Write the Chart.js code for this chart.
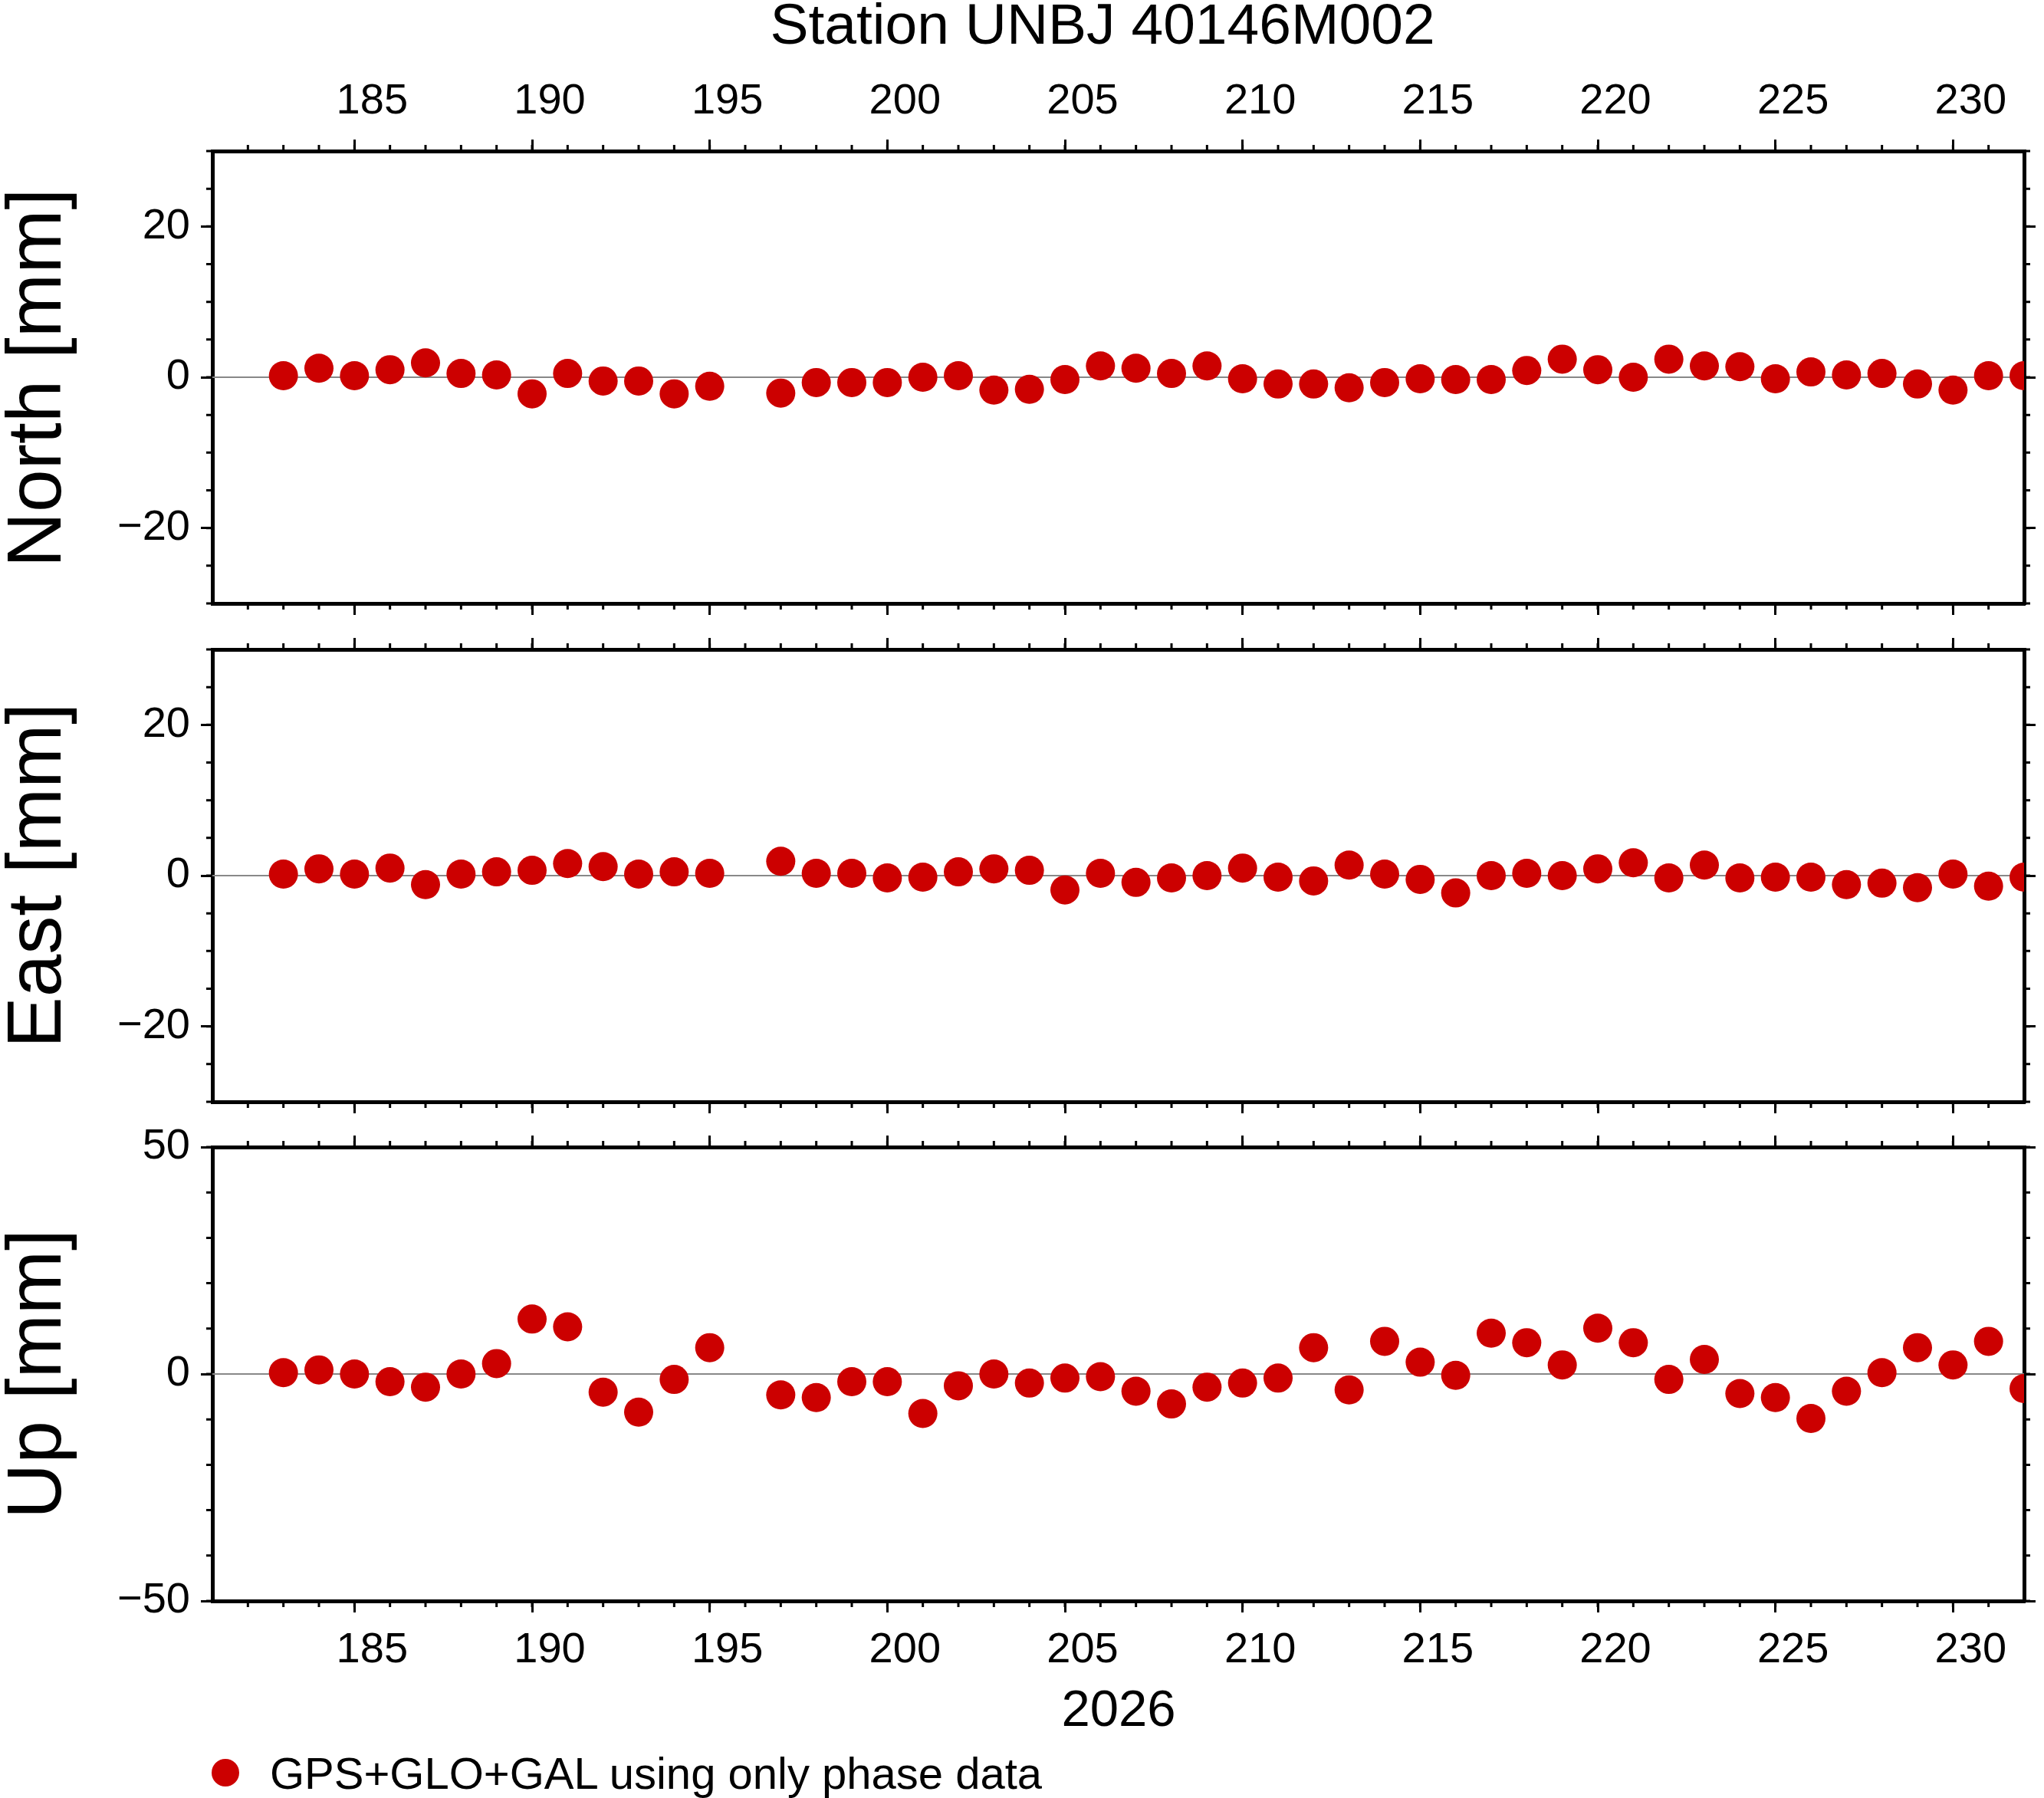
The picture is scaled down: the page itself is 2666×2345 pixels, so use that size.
<!DOCTYPE html>
<html><head><meta charset="utf-8">
<script src="https://cdn.jsdelivr.net/npm/chart.js@4"></script>
<style>
body{margin:0;width:2666px;height:2345px;background:#fff;position:relative;overflow:hidden;font-family:"Liberation Sans",Arial,sans-serif;}
canvas{position:absolute;left:0;}
.t{position:absolute;white-space:nowrap;color:#000;}
.yl{position:absolute;font-size:100px;transform:translate(-50%,-50%) rotate(-90deg);white-space:nowrap;}
</style></head><body>
<div class="t" style="left:1438px;top:31px;font-size:75px;transform:translate(-50%,-50%)">Station UNBJ 40146M002</div>
<div class="yl" style="left:44px;top:493px">North [mm]</div>
<div class="yl" style="left:44px;top:1142px">East [mm]</div>
<div class="yl" style="left:44px;top:1792px">Up [mm]</div>
<div class="t" style="left:1459px;top:2227px;font-size:67px;transform:translate(-50%,-50%)">2026</div>
<div style="position:absolute;left:276px;top:2294px;width:36px;height:36px;border-radius:50%;background:#cc0000"></div>
<div class="t" style="left:352px;top:2312px;font-size:58px;transform:translateY(-50%)">GPS+GLO+GAL using only phase data</div>
<canvas id="cN" width="2666" height="747" style="top:100px"></canvas>
<canvas id="cE" width="2666" height="710" style="top:787px"></canvas>
<canvas id="cU" width="2666" height="764" style="top:1436px"></canvas>
<script>
const days = [183,184,185,186,187,188,189,190,191,192,193,194,195,197,198,199,200,201,202,203,204,205,206,207,208,209,210,211,212,213,214,215,216,217,218,219,220,221,222,223,224,225,226,227,228,229,230,231,232];
const north = [0.2,1.2,0.2,1,1.9,0.5,0.3,-2.2,0.5,-0.5,-0.5,-2.2,-1.2,-2.1,-0.7,-0.7,-0.7,0,0.2,-1.7,-1.6,-0.3,1.5,1.2,0.5,1.5,-0.2,-0.9,-0.9,-1.4,-0.7,-0.2,-0.3,-0.3,0.9,2.4,1,0,2.4,1.5,1.4,-0.2,0.7,0.3,0.5,-0.9,-1.7,0.2,0.2];
const east = [0.2,0.9,0.2,1,-1.2,0.2,0.5,0.7,1.6,1.2,0.2,0.5,0.3,1.9,0.3,0.3,-0.3,-0.2,0.5,0.9,0.7,-1.9,0.3,-0.9,-0.3,0,1,-0.2,-0.7,1.4,0.2,-0.5,-2.3,0,0.3,0,0.9,1.7,-0.3,1.4,-0.3,-0.2,-0.2,-1.2,-1,-1.6,0.2,-1.4,-0.2];
const up = [0.3,0.9,0,-1.7,-2.9,0,2.3,12.1,10.4,-4,-8.4,-1.2,5.8,-4.6,-5.2,-1.7,-1.7,-8.7,-2.6,0,-2,-0.9,-0.6,-3.8,-6.6,-2.9,-2,-0.9,5.8,-3.5,7.2,2.6,-0.3,9,6.9,2,10.1,6.9,-1.2,3.2,-4.3,-5.2,-9.8,-3.8,0.3,5.8,2,7.2,-3.2];
const xMajor = [185,190,195,200,205,210,215,220,225,230];
const xMin = 181, xMax = 232;

const FONT = {family:'"Liberation Sans", Arial, sans-serif', size:56};

function fixed(v){ return s => { s.ticks = v.map(x => ({value:x})); }; }

const minorPlugin = {
  id:'minor',
  beforeDatasetsDraw(chart, args, opts){
    const {ctx, chartArea:a, scales} = chart;
    const x = scales.x, y = scales.y;
    ctx.save();
    ctx.strokeStyle = '#888'; ctx.lineWidth = 2;
    const y0 = y.getPixelForValue(0);
    ctx.beginPath(); ctx.moveTo(a.left, y0); ctx.lineTo(a.right, y0); ctx.stroke();
    ctx.strokeStyle = '#000'; ctx.lineWidth = 3;
    ctx.beginPath();
    for (let d = xMin + 1; d < xMax; d++) {
      const px = x.getPixelForValue(d);
      ctx.moveTo(px, a.top); ctx.lineTo(px, a.top - 8);
      ctx.moveTo(px, a.bottom); ctx.lineTo(px, a.bottom + 8);
    }
    for (let v = y.min; v <= y.max; v += opts.ystep) {
      const py = y.getPixelForValue(v);
      ctx.moveTo(a.left, py); ctx.lineTo(a.left - 8, py);
      ctx.moveTo(a.right, py); ctx.lineTo(a.right + 8, py);
    }
    ctx.stroke();
    ctx.restore();
  }
};

function makeChart(id, values, opt){
  const lab = {color:'#000', font:FONT};
  const grid = {drawOnChartArea:false, tickLength:15, lineWidth:3, color:'#000'};
  const border = {width:5, color:'#000'};
  return new Chart(document.getElementById(id), {
    type:'scatter',
    data:{datasets:[{data:days.map((d,i)=>({x:d,y:values[i]})), backgroundColor:'#cc0000', borderWidth:0, pointRadius:19}]},
    plugins:[minorPlugin],
    options:{
      responsive:false, animation:false, devicePixelRatio:1,
      layout:{padding:0},
      plugins:{legend:{display:false}, tooltip:{enabled:false}, minor:{ystep:opt.ystep}},
      scales:{
        x:{type:'linear', position:'bottom', min:xMin, max:xMax, grid, border,
           afterBuildTicks:fixed(xMajor), afterFit:s=>{s.height=opt.bot;},
           ticks:{display:opt.botLabels, ...lab, labelOffset:23, padding:16, maxRotation:0, autoSkip:false}},
        x2:{type:'linear', position:'top', min:xMin, max:xMax, grid, border,
           afterBuildTicks:fixed(xMajor), afterFit:s=>{s.height=opt.top;},
           ticks:{display:opt.topLabels, ...lab, labelOffset:23, padding:16, maxRotation:0, autoSkip:false}},
        y:{type:'linear', position:'left', min:opt.min, max:opt.max, grid, border,
           afterBuildTicks:fixed(opt.major), afterFit:s=>{s.width=277;},
           ticks:{...lab, padding:14, callback:v=>String(v).replace('-','\u2212')}},
        y2:{type:'linear', position:'right', min:opt.min, max:opt.max, grid, border,
           afterBuildTicks:fixed(opt.major), afterFit:s=>{s.width=26;},
           ticks:{display:false}}
      }
    }
  });
}

makeChart('cN', north, {min:-30, max:30, major:[-20,0,20], ystep:5, top:97, bot:60, topLabels:true, botLabels:false});
makeChart('cE', east, {min:-30, max:30, major:[-20,0,20], ystep:5, top:60, bot:60, topLabels:false, botLabels:false});
makeChart('cU', up, {min:-50, max:50, major:[-50,0,50], ystep:10, top:60, bot:112, topLabels:false, botLabels:true});
</script>
</body></html>
